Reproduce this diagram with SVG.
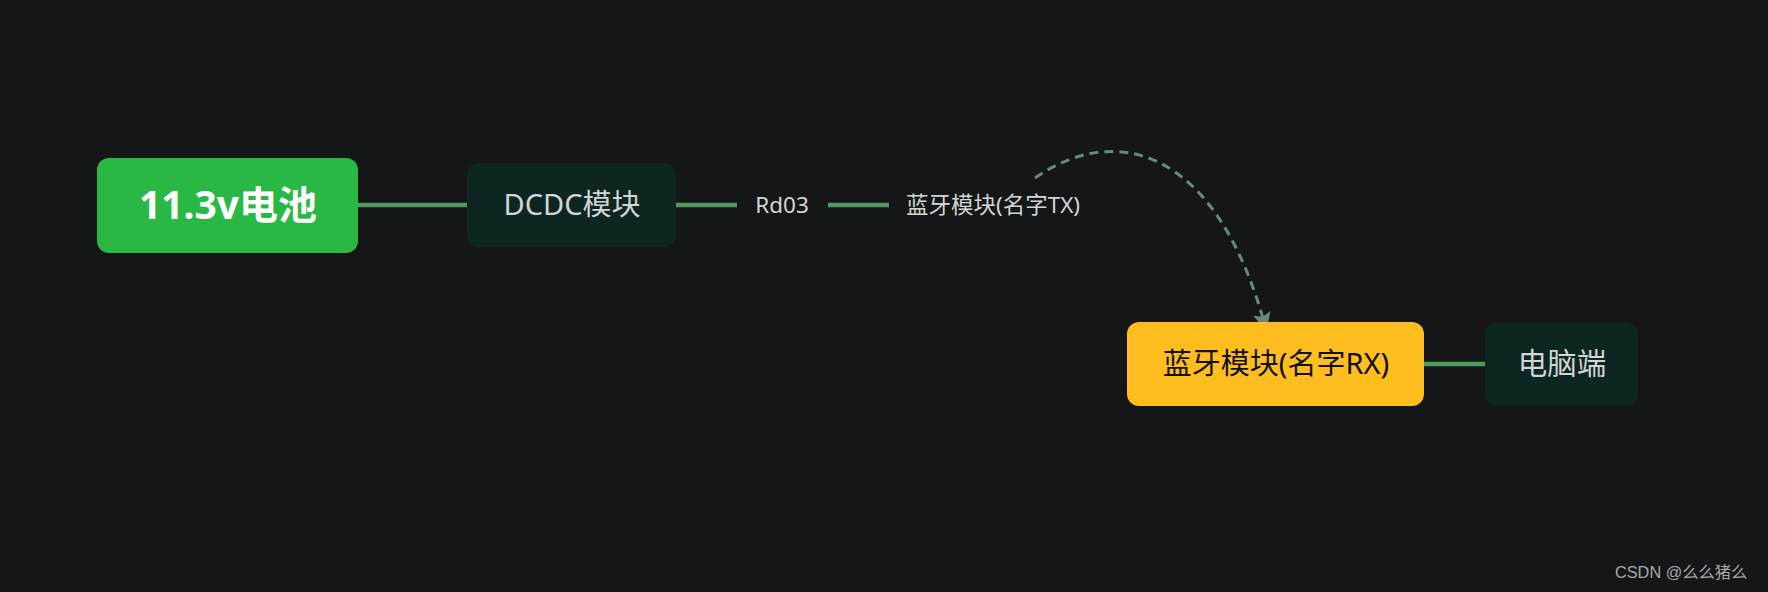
<svg xmlns="http://www.w3.org/2000/svg" width="1768" height="592" viewBox="0 0 1768 592">
<style>
.t{font-family:"Noto Sans","Noto Sans CJK SC",sans-serif;text-anchor:middle}
.lt{fill:#d2d5d3}
.edge{stroke:#4e9a5f;stroke-width:4.5;fill:none}
.dark{fill:#0d2621}
</style>
<defs>
<marker id="ah" viewBox="0 0 10 10" refX="9" refY="5" markerWidth="6" markerHeight="6" orient="auto" markerUnits="strokeWidth">
<path d="M0,0 L10,5 L0,10 L2,5 Z" fill="#6b8880"/>
</marker>
</defs>
<rect width="1768" height="592" fill="#151618"/>
<g id="connectors">
<line class="edge" x1="358" y1="205" x2="467" y2="205"/>
<line class="edge" x1="676" y1="205" x2="737" y2="205"/>
<line class="edge" x1="828" y1="205" x2="889" y2="205"/>
<line class="edge" x1="1424" y1="364" x2="1485" y2="364"/>
<path d="M1035,178 C1110,125 1215,140 1266,329" fill="none" stroke="#6b8880" stroke-width="3" stroke-dasharray="9 6" marker-end="url(#ah)"/>
</g>
<g id="battery">
<rect x="97" y="158" width="261" height="95" rx="12" fill="#2ab845"/>
<text class="t" x="228" y="219" font-size="39" font-weight="bold" fill="#ffffff">11.3v电池</text>
</g>
<g id="dcdc">
<rect class="dark" x="467" y="163" width="209" height="84" rx="12"/>
<text class="t lt" x="572" y="215" font-size="29">DCDC模块</text>
</g>
<g id="rd03">
<text class="t lt" x="782" y="213" font-size="22.5">Rd03</text>
</g>
<g id="bt-tx">
<text class="t lt" x="993" y="213" font-size="22.5">蓝牙模块(名字TX)</text>
</g>
<g id="bt-rx">
<rect x="1127" y="322" width="297" height="84" rx="12" fill="#ffbd1f"/>
<text class="t" x="1276" y="374" font-size="29" fill="#111111">蓝牙模块(名字RX)</text>
</g>
<g id="pc">
<rect class="dark" x="1485" y="322" width="153" height="84" rx="12"/>
<text class="t lt" x="1562" y="374" font-size="29.5">电脑端</text>
</g>
<text x="1615" y="578" font-family="'Liberation Sans','Noto Sans CJK SC',sans-serif" font-size="16.3" fill="#a8a8a8">CSDN @么么猪么</text>
</svg>
